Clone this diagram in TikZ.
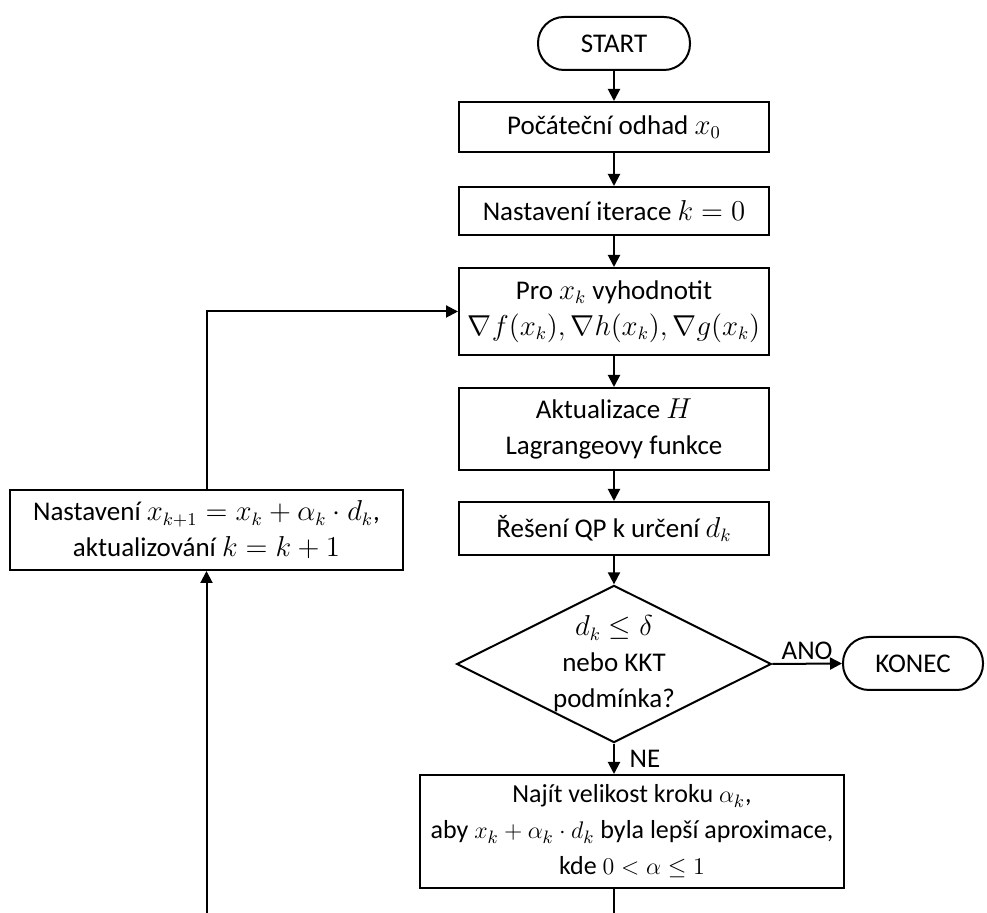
\documentclass[tikz,border=0pt]{standalone}
\usepackage{amsmath,amssymb}
\usepackage{fontspec}
\setmainfont{Carlito}
\usepackage{tikz}
\usetikzlibrary{
  arrows.meta,
  positioning,
  calc,
  shapes.geometric
}

\begin{document}
\begin{tikzpicture}[x=0.5pt,y=-0.5pt,
    font=\fontsize{13.5}{18}\selectfont,
    box/.style={draw,line width=1pt,align=center,inner sep=0pt,
                minimum width=155pt},
    term/.style={draw,line width=1pt,rounded corners=13pt,inner sep=0pt,
                 minimum width=70pt,minimum height=26.5pt},
    decision/.style={draw,line width=1pt,diamond,aspect=2,align=center,
                     inner sep=0pt,minimum width=153pt,minimum height=76pt},
    arr/.style={line width=1pt,-{Triangle[length=6pt,width=6pt]}},
    lin/.style={line width=1pt}]
  \useasboundingbox (0,0) rectangle (987,913);
  % Main column
  \node[term,minimum width=76pt] (start) at (614,43.5) {START};
  \node[box,minimum height=25pt] (init) at (614,127) {Počáteční odhad $x_0$};
  \node[box,minimum height=24pt] (iter) at (614,211) {Nastavení iterace $k=0$};
  \node[box,minimum height=43.5pt] (eval) at (614,311.5)
       {Pro $x_k$ vyhodnotit\\$\nabla f(x_k),\nabla h(x_k),\nabla g(x_k)$};
  \node[box,minimum height=41pt] (hess) at (614,429)
       {Aktualizace $H$\\Lagrangeovy funkce};
  \node[box,minimum height=26.5pt] (qp) at (614,528.5) {Řešení QP k určení $d_k$};
  \node[decision] (test) at (614,664) {$d_k\le\delta$\\nebo KKT\\podmínka?};
  \node[term] (stop) at (913,663.5) {KONEC};
  \node[box,minimum width=212pt,minimum height=56.5pt,
        font=\fontsize{13}{18}\selectfont] (step) at (632,831.5)
       {Najít velikost kroku $\alpha_k$,\\
        aby $x_k+\alpha_k\cdot d_k$ byla lepší aproximace,\\
        kde $0<\alpha\le 1$};
  % Left box of the loop
  \node[box,minimum width=196.5pt,minimum height=40pt] (upd) at (206.5,530)
       {Nastavení $x_{k+1}=x_k+\alpha_k\cdot d_k$,\\aktualizování $k=k+1$};
  \coordinate (out) at (614,913);
  \coordinate (back) at (206.5,913);
  % Connectors
  \draw[arr] (start) -- (init);
  \draw[arr] (init) -- (iter);
  \draw[arr] (iter) -- (eval);
  \draw[arr] (eval) -- (hess);
  \draw[arr] (hess) -- (qp);
  \draw[arr] (qp) -- (test);
  \draw[arr] (test.east) -- node[above,yshift=-2pt]{ANO} (stop.west);
  \draw[arr] (test.south) -- node[right,xshift=4pt]{NE} (test.south |- step.north);
  \draw[lin] (step.south -| out) -- (out);
  \draw[arr] (back) -- (upd.south);
  \draw[arr] (upd.north) |- (eval.west);
\end{tikzpicture}
\end{document}
